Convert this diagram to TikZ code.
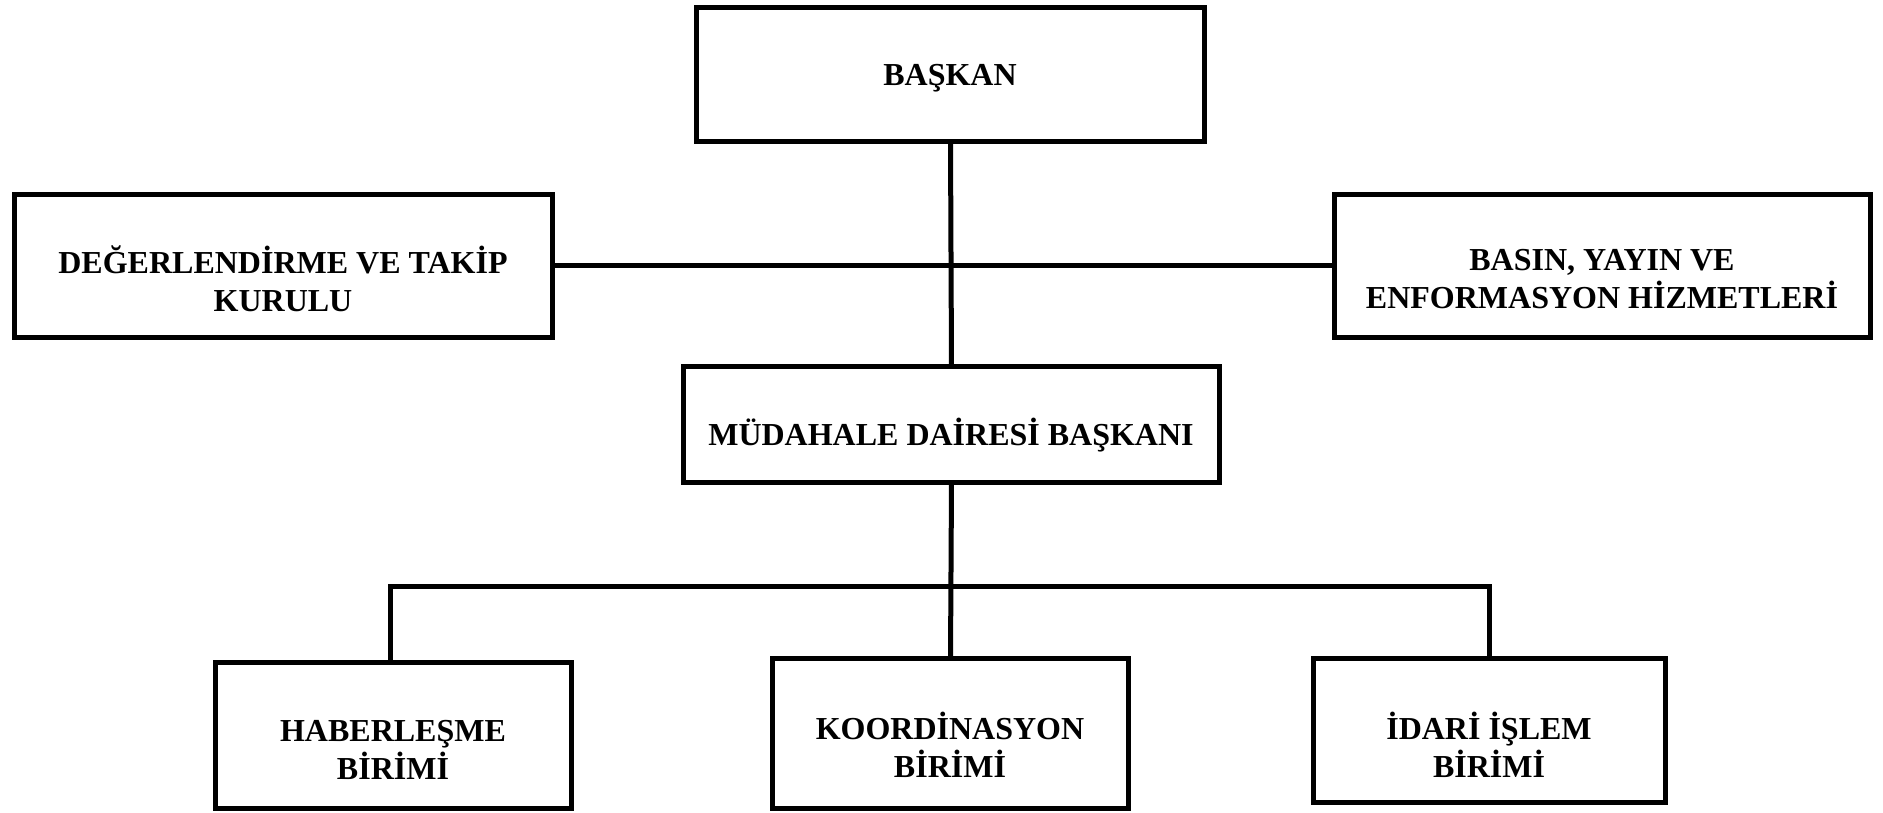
\documentclass[tikz,border=0pt]{standalone}
\usepackage{fontspec}
\setmainfont{Liberation Serif}
\begin{document}
\begin{tikzpicture}[x=1pt,y=-1pt,
  box/.style={draw=black,line width=5.5pt,fill=white,inner sep=0pt,outer sep=0pt},
  lbl/.style={align=center,inner sep=0pt,font=\bfseries\fontsize{32}{38}\selectfont},
  conn/.style={line width=5pt,line join=miter}]
\useasboundingbox[fill=white] (0,0) rectangle (1883,813);
% boxes
\node[box,minimum width=508pt,minimum height=134pt] (baskan) at (950.5,74.5) {};
\node[box,minimum width=538pt,minimum height=143pt] (deg) at (283.5,266) {};
\node[box,minimum width=536pt,minimum height=143pt] (basin) at (1602.5,266) {};
\node[box,minimum width=536pt,minimum height=116pt] (mud) at (951.5,424.5) {};
\node[box,minimum width=356pt,minimum height=146pt] (hab) at (393.5,735.5) {};
\node[box,minimum width=356pt,minimum height=150pt] (koord) at (950.5,733.5) {};
\node[box,minimum width=352pt,minimum height=144pt] (idari) at (1489.5,730.5) {};
% texts
\node[lbl] (baskant) at (950,78) {BAŞKAN};
\node[lbl] (degt) at (283,279) {DEĞERLENDİRME VE TAKİP\\KURULU};
\node[lbl] (basint) at (1602,279) {BASIN, YAYIN VE\\ENFORMASYON HİZMETLERİ};
\node[lbl] (mudt) at (951,435) {MÜDAHALE DAİRESİ BAŞKANI};
\node[lbl] (habt) at (393,750) {HABERLEŞME\\BİRİMİ};
\node[lbl] (koordt) at (950,745) {KOORDİNASYON\\BİRİMİ};
\node[lbl] (idarit) at (1489,745) {İDARİ İŞLEM\\BİRİMİ};
% connectors
\coordinate (busL) at (390,586);
\coordinate (busR) at (1489,586);
\draw[conn] (baskan.south) -- (mud.north);
\draw[conn] (deg.east) -- (basin.west);
\draw[conn] (mud.south) -- (koord.north);
\draw[conn] (busL |- hab.north) -- (busL) -- (busR) -- (busR |- idari.north);
\end{tikzpicture}
\end{document}
